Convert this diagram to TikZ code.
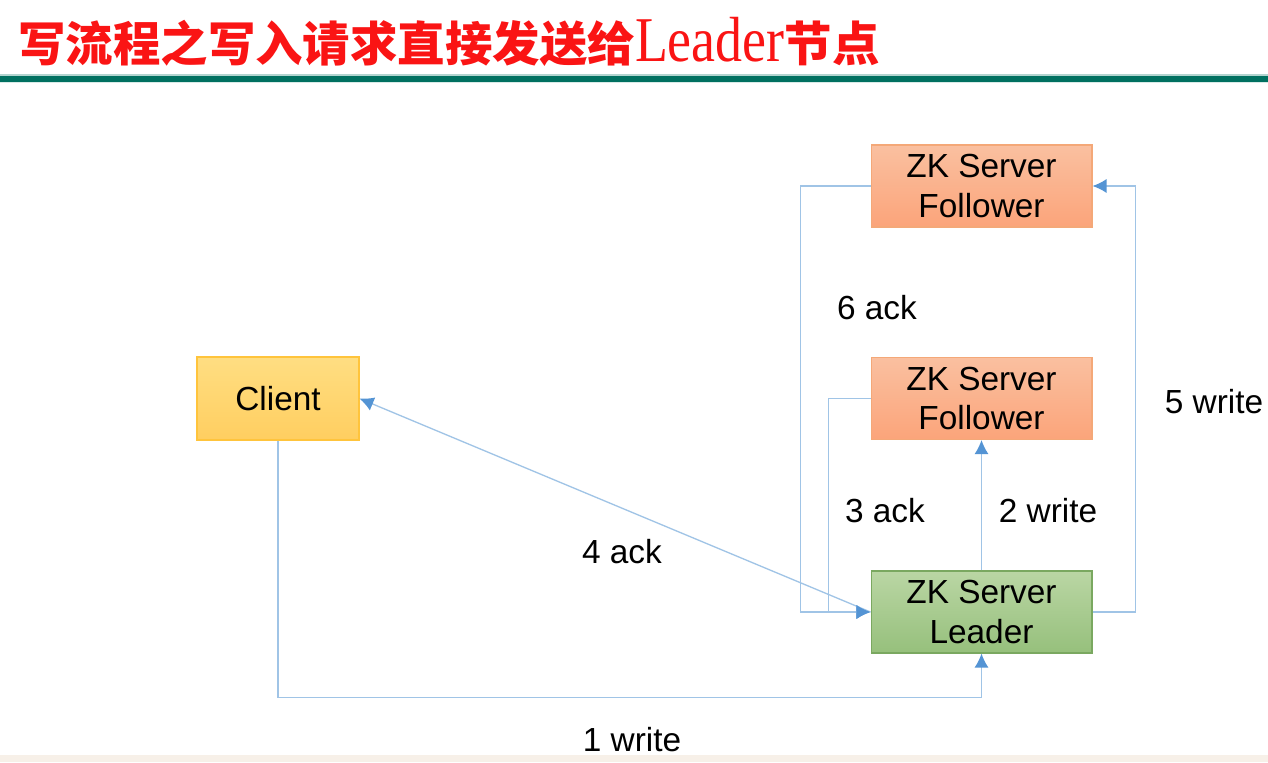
\documentclass[tikz,border=0pt]{standalone}
\usepackage{fontspec}
\setmainfont{Liberation Sans}
\newfontfamily\cjk{Noto Sans CJK SC}
\newfontfamily\titleserif{Liberation Serif}
\usetikzlibrary{arrows.meta}
\usetikzlibrary{positioning}
\definecolor{linkblue}{RGB}{160,196,230}
\definecolor{tipblue}{RGB}{84,148,212}
\definecolor{titlered}{RGB}{250,20,20}
\definecolor{rulegreen}{RGB}{0,112,96}
\definecolor{folborder}{RGB}{244,168,120}
\definecolor{leadborder}{RGB}{122,168,96}
\definecolor{cliborder}{RGB}{255,196,60}
\tikzset{box/.style = {draw, line width=0.6pt, align=center,
                       minimum width=4.42cm, minimum height=1.64cm,
                       font=\fontsize{19}{22.7}\selectfont},
         follower/.style = {box, draw=folborder, top color={rgb,255:red,250;green,192;blue,160},
                            bottom color={rgb,255:red,251;green,164;blue,122}},
         leader/.style = {box, draw=leadborder, top color={rgb,255:red,186;green,214;blue,164},
                          bottom color={rgb,255:red,150;green,192;blue,124}},
         client/.style = {box, draw=cliborder, minimum width=3.24cm, minimum height=1.66cm,
                          top color={rgb,255:red,255;green,222;blue,130},
                          bottom color={rgb,255:red,255;green,206;blue,96}},
         link/.style = {draw=linkblue, line width=0.75pt,
                        -{Latex[length=8pt, width=8pt, color=tipblue]}},
         lbl/.style = {font=\fontsize{19}{22.7}\selectfont}}

\begin{document}
\begin{tikzpicture}[x=0.02cm, y=-0.02cm]
    \useasboundingbox (0, 0) rectangle (1268, 762);
    \fill [white] (0, 0) rectangle (1268, 762);
    \node [anchor=west, inner sep=0pt, text=titlered] (title) at (18, 42)
        {\cjk\bfseries\fontsize{27}{30}\selectfont 写流程之写入请求直接发送给%
         {\titleserif\mdseries\fontsize{33}{33}\selectfont\scalebox{0.93}[1.1]{Leader}}节点};
    \fill [rulegreen!30] (0, 74) rectangle (1268, 76);
    \fill [rulegreen] (0, 76) rectangle (1268, 82);
    \fill [rulegreen!15!white] (0, 82) rectangle (1268, 83);
    \fill [brown!12] (0, 755) rectangle (1268, 762);

    \node [follower] (fol1) at (981.5, 186) {ZK Server\\Follower};
    \node [follower] (fol2) at (981.5, 398.5) {ZK Server\\Follower};
    \node [leader] (lead) at (981.5, 612) {ZK Server\\Leader};
    \node [client] (client) at (278, 398.5) {Client};

    \draw [link] (client.south) -- ++(0, 257) -| (lead.south);
    \draw [link] (lead.north) -- (fol2.south);
    \draw [link] (fol2.west) -- ++(-42, 0) |- (lead.west);
    \draw [link] (lead.west) -- (client.east);
    \draw [link] (lead.east) -- ++(43, 0) |- (fol1.east);
    \draw [link] (fol1.west) -- ++(-70, 0) |- (lead.west);

    \node [lbl] (w1) at (632, 740) {1 write};
    \node [lbl] (w2) at (1048, 511) {2 write};
    \node [lbl] (a3) at (885, 511) {3 ack};
    \node [lbl] (a4) at (622, 552) {4 ack};
    \node [lbl] (w5) at (1214, 402) {5 write};
    \node [lbl] (a6) at (877, 308) {6 ack};
\end{tikzpicture}
\end{document}
